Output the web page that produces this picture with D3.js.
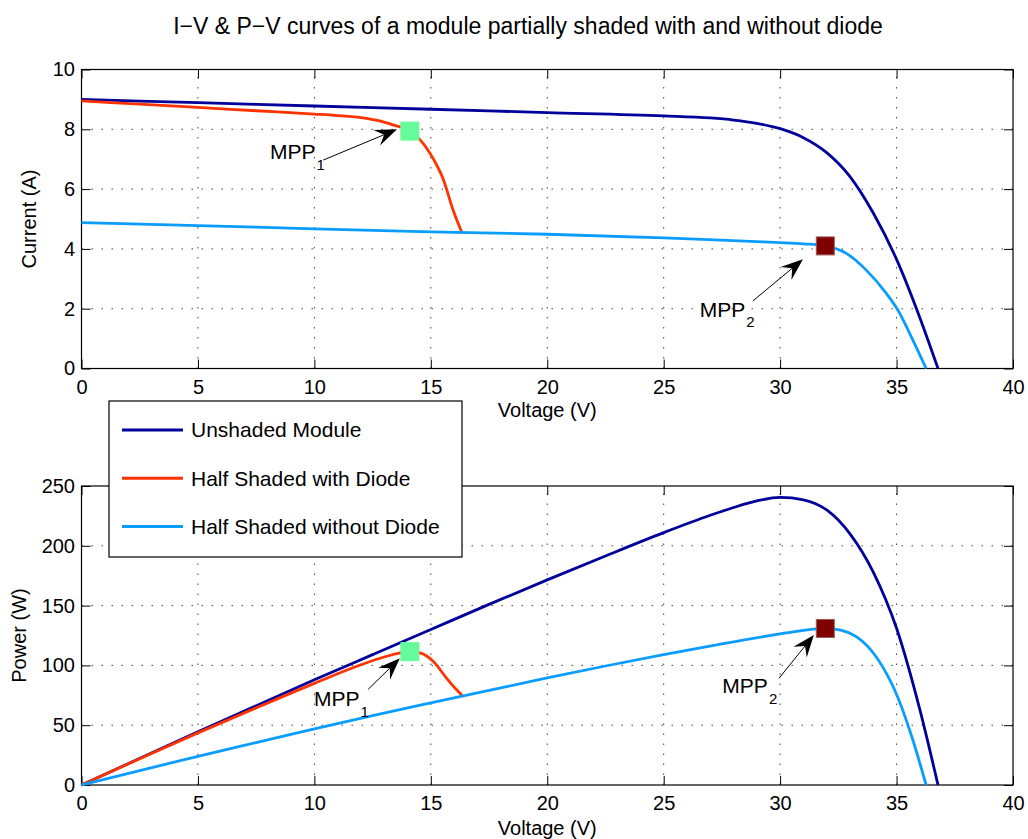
<!DOCTYPE html>
<html>
<head>
<meta charset="utf-8">
<script src="https://cdn.jsdelivr.net/npm/d3@7"></script>
<style>
  body { margin: 0; background: #fff; }
  svg { display: block; font-family: "Liberation Sans", Arial, Helvetica, sans-serif; }
</style>
</head>
<body>
<svg id="chart" width="1028" height="839"></svg>
<script>
// ---- Measured curves: [voltage (V), current (A)] ----
const unshadedIV = [[0,9.00],[5,8.89],[10,8.78],[15,8.67],[20,8.56],[25,8.45],[27,8.38],[28,8.31],[29,8.20],
  [30,8.02],[31,7.72],[32,7.22],[33,6.42],[34,5.20],[35,3.65],[36,1.70],[36.78,0]];
const diodeIV = [[0,8.95],[2.5,8.84],[5,8.73],[7.5,8.62],[10,8.51],[11,8.46],[12,8.39],[12.8,8.28],[13.4,8.14],
  [14.1,7.94],[14.55,7.64],[15.1,7.02],[15.55,6.30],[15.96,5.29],[16.32,4.57]];
const noDiodeIV = [[0,4.88],[5,4.78],[10,4.67],[15,4.57],[20,4.49],[25,4.37],[29,4.24],[30,4.21],[31,4.17],
  [31.94,4.10],[32.84,3.85],[33.7,3.29],[34.56,2.51],[35.06,1.95],[35.7,0.95],[36.27,0]];

// ---- Measured curves: [voltage (V), power (W)] ----
const unshadedPV = [[0,0],[5,44.5],[10,88],[12.5,109],[15,130],[17.5,151],[20,171.5],[22.5,191.5],[25,211],
  [27,225.5],[28,232],[29,237.5],[30,240.5],[31,238.5],[32,230],[33,210],[34,178],[35,131],[36,63],[36.78,0]];
const diodePV = [[0,0],[2.5,22],[5,43.6],[7.5,64.5],[10,85],[12,100.5],[13,107],[13.6,110],[14.1,111.5],
  [14.6,110],[15.12,103],[15.69,89],[16.12,79.4],[16.34,75]];
const noDiodePV = [[0,0],[2.5,12.1],[5,24],[7.5,35.5],[10,47],[12.5,58],[15,68.6],[17.5,79.1],[20,89.5],
  [22.5,99.5],[25,109],[27.5,118],[30,126.3],[31,129.3],[31.94,131],[32.6,129.5],[33.27,124],[34.13,107],
  [35.06,73],[35.7,37.6],[36.27,0]];

// ---- Maximum power points: voltage, current, power ----
const mppNames   = ["1", "2"];
const mppVoltage = [14.1, 31.94];
const mppCurrent = [7.94, 4.10];
const mppPower   = [111.5, 130.9];

// ---- Axis ticks and labels ----
const voltageTicks = [0,5,10,15,20,25,30,35,40];
const currentTicks = [0,2,4,6,8,10];
const powerTicks   = [0,50,100,150,200,250];
const seriesNames  = ["Unshaded Module", "Half Shaded with Diode", "Half Shaded without Diode"];
const titleText = "I\u2212V & P\u2212V curves of a module partially shaded with and without diode";

// ---- Styling ----
const seriesColors = ["#00009a", "#ff3300", "#0a9dff"];
const mppColors = ["#66fb9a", "#800000"];
const mppStroke = ["#66fb9a", "#9a5a5a"];

// Label placement for the MPP call-outs, in data units of each panel
const ivCallouts = [
  { text: [8.09, 6.99], from: [10.38, 6.97], to: [13.55, 8.0] },
  { text: [26.55, 1.73], from: [28.83, 2.26], to: [30.98, 3.65] }
];
const pvCallouts = [
  { text: [9.98, 66], from: [12.31, 80], to: [13.67, 105.9] },
  { text: [27.52, 76.7], from: [29.95, 89.2], to: [31.45, 125.4] }
];

const svg = d3.select("#chart");
const left = 81.5, right = 1013;
const x = d3.scaleLinear().domain([0, 40]).range([left, right]);
const yI = d3.scaleLinear().domain([0, 10]).range([368.5, 69.5]);
const yP = d3.scaleLinear().domain([0, 250]).range([785, 486]);

svg.append("text")
  .attr("x", 528).attr("y", 33.5)
  .attr("text-anchor", "middle")
  .attr("font-size", 23)
  .text(titleText);

function drawArrow(g, x1, y1, x2, y2) {
  const dx = x2 - x1, dy = y2 - y1;
  const len = Math.hypot(dx, dy);
  const ux = dx / len, uy = dy / len;
  const nx = -uy, ny = ux;
  const L = 22, W = 8.5, N = 14;
  g.append("line")
    .attr("x1", x1).attr("y1", y1)
    .attr("x2", x2 - ux * N).attr("y2", y2 - uy * N)
    .attr("stroke", "#000").attr("stroke-width", 1);
  const pts = [
    [x2, y2],
    [x2 - ux * L + nx * W, y2 - uy * L + ny * W],
    [x2 - ux * N, y2 - uy * N],
    [x2 - ux * L - nx * W, y2 - uy * L - ny * W]
  ];
  g.append("path").attr("d", "M" + pts.map(p => p.join(",")).join("L") + "Z").attr("fill", "#000");
}

function panel(yScale, yTicks, yLabel, yLabelX, series, mppValues, callouts, xLabelY) {
  const top = yScale.range()[1], bottom = yScale.range()[0];
  const g = svg.append("g");

  // dotted grid
  const grid = g.append("g").attr("stroke", "#444").attr("stroke-width", 1).attr("stroke-dasharray", "1.5,8.5");
  voltageTicks.slice(1, -1).forEach(v => grid.append("line")
    .attr("x1", x(v)).attr("x2", x(v)).attr("y1", bottom).attr("y2", top));
  yTicks.slice(1, -1).forEach(t => grid.append("line")
    .attr("x1", left).attr("x2", right).attr("y1", yScale(t)).attr("y2", yScale(t)));

  // axes with inward ticks on all four sides
  const fmt = d3.format("d");
  const ax = (sel) => sel.call(s => s.select(".domain").remove())
    .call(s => s.selectAll("text").attr("font-size", 20).attr("fill", "#000").attr("font-family", null))
    .call(s => s.selectAll("line").attr("stroke", "#000"));
  g.append("g").attr("transform", `translate(0,${bottom})`)
    .call(d3.axisBottom(x).tickValues(voltageTicks).tickFormat(fmt).tickSizeInner(-9).tickSizeOuter(0).tickPadding(11))
    .call(ax);
  g.append("g").attr("transform", `translate(0,${top})`)
    .call(d3.axisTop(x).tickValues(voltageTicks).tickFormat("").tickSizeInner(-9).tickSizeOuter(0))
    .call(ax);
  g.append("g").attr("transform", `translate(${left},0)`)
    .call(d3.axisLeft(yScale).tickValues(yTicks).tickFormat(fmt).tickSizeInner(-9).tickSizeOuter(0).tickPadding(6.5))
    .call(ax);
  g.append("g").attr("transform", `translate(${right},0)`)
    .call(d3.axisRight(yScale).tickValues(yTicks).tickFormat("").tickSizeInner(-9).tickSizeOuter(0))
    .call(ax);

  g.append("rect")
    .attr("x", left).attr("y", top).attr("width", right - left).attr("height", bottom - top)
    .attr("fill", "none").attr("stroke", "#000").attr("stroke-width", 1.2);

  // curves
  const line = d3.line().x(d => x(d[0])).y(d => yScale(d[1])).curve(d3.curveMonotoneX);
  series.forEach((data, k) => g.append("path")
    .datum(data).attr("d", line)
    .attr("fill", "none").attr("stroke", seriesColors[k]).attr("stroke-width", 2.8)
    .attr("stroke-linejoin", "round"));

  // maximum power point markers
  mppValues.forEach((val, k) => g.append("rect")
    .attr("x", x(mppVoltage[k]) - 9).attr("y", yScale(val) - 9)
    .attr("width", 18).attr("height", 18)
    .attr("fill", mppColors[k]).attr("stroke", mppStroke[k]).attr("stroke-width", 1));

  // call-outs
  callouts.forEach((c, k) => {
    drawArrow(g, x(c.from[0]), yScale(c.from[1]), x(c.to[0]), yScale(c.to[1]));
    const t = g.append("text").attr("x", x(c.text[0])).attr("y", yScale(c.text[1])).attr("font-size", 21);
    t.append("tspan").text("MPP");
    t.append("tspan").attr("dx", 1).attr("dy", 10.5).attr("font-size", 15).text(mppNames[k]);
  });

  // axis titles
  svg.append("text")
    .attr("transform", `translate(${yLabelX},${(top + bottom) / 2}) rotate(-90)`)
    .attr("text-anchor", "middle").attr("font-size", 20).text(yLabel);
  svg.append("text")
    .attr("x", (left + right) / 2).attr("y", xLabelY)
    .attr("text-anchor", "middle").attr("font-size", 20).text("Voltage (V)");
}

panel(yI, currentTicks, "Current (A)", 36, [unshadedIV, diodeIV, noDiodeIV], mppCurrent, ivCallouts, 417);
panel(yP, powerTicks, "Power (W)", 26, [unshadedPV, diodePV, noDiodePV], mppPower, pvCallouts, 835);

// legend, drawn over the lower panel
const legend = svg.append("g");
legend.append("rect")
  .attr("x", 109).attr("y", 401).attr("width", 353).attr("height", 156)
  .attr("fill", "#fff").attr("stroke", "#000").attr("stroke-width", 1.2);
const legendY = d3.scalePoint().domain(seriesNames).range([430, 526.5]);
seriesNames.forEach((name, k) => {
  legend.append("line")
    .attr("x1", 122).attr("x2", 183).attr("y1", legendY(name)).attr("y2", legendY(name))
    .attr("stroke", seriesColors[k]).attr("stroke-width", 2.8);
  legend.append("text")
    .attr("x", 191).attr("y", legendY(name)).attr("dy", "0.35em")
    .attr("font-size", 21).text(name);
});
</script>
</body>
</html>
